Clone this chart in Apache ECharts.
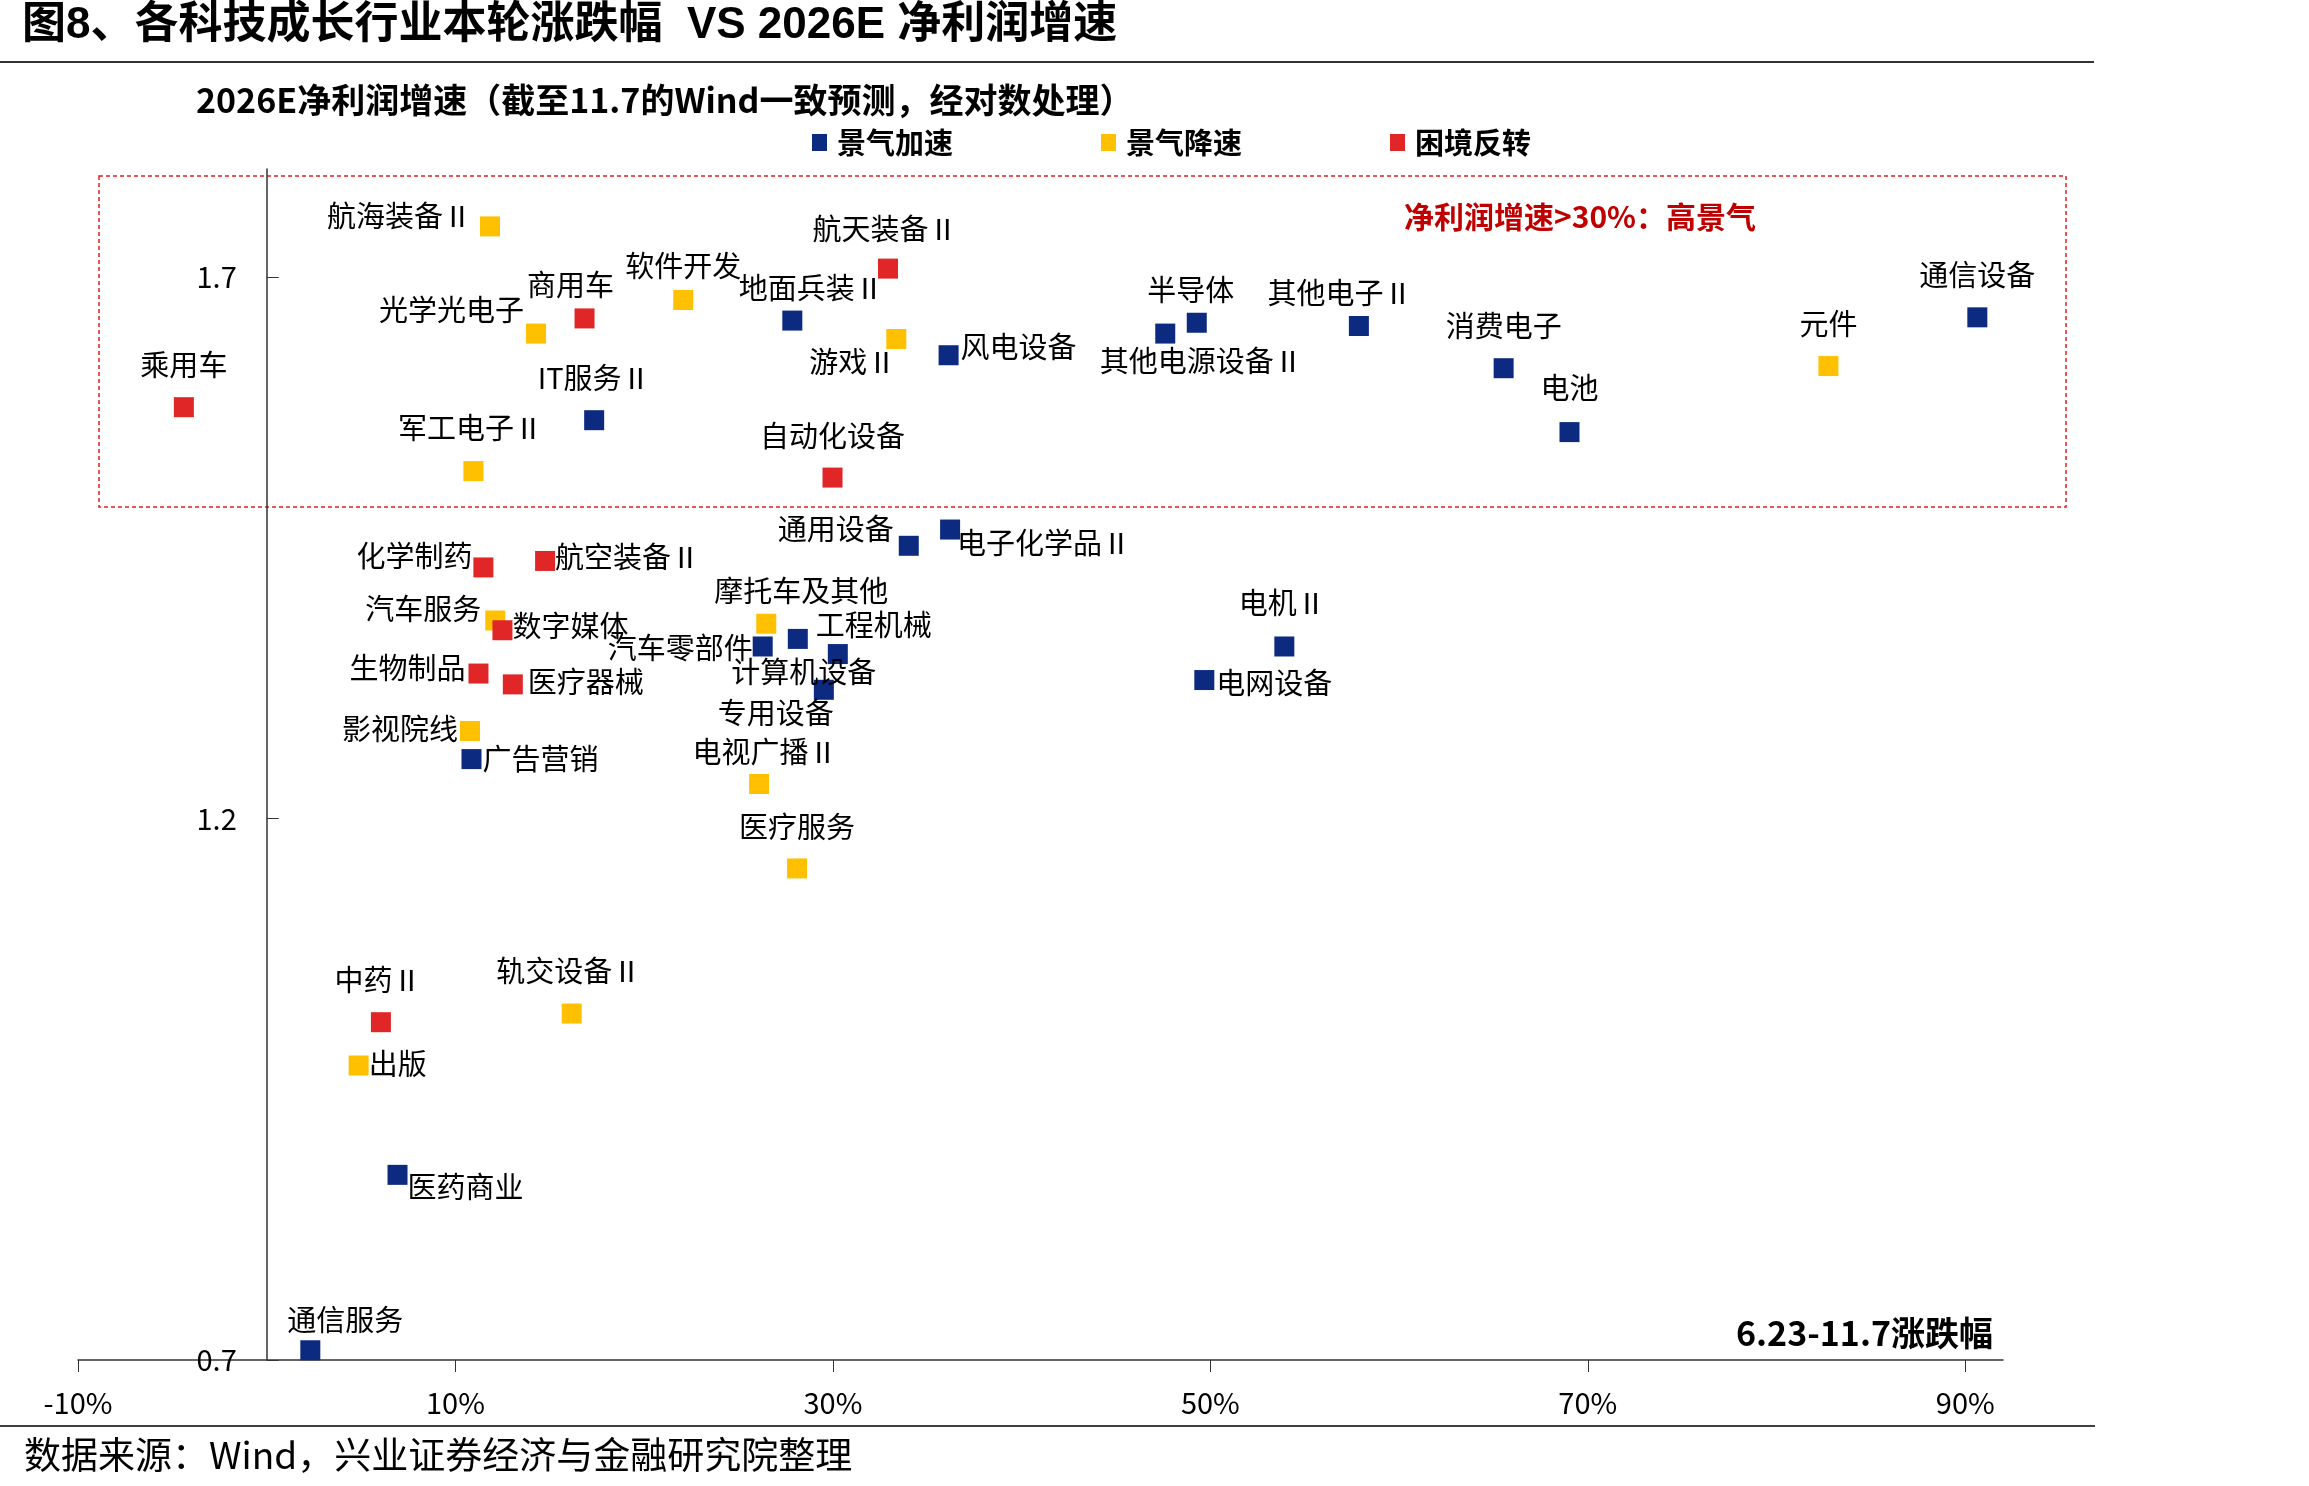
<!DOCTYPE html>
<html>
<head>
<meta charset="utf-8">
<title>图8</title>
<script src="https://cdn.jsdelivr.net/npm/echarts@6/dist/echarts.min.js"></script>
<style>
    html, body { margin: 0; padding: 0; background: #fff; }
    #main { width: 2309px; height: 1486px; }
</style>
</head>
<body>
<div id="main"></div>
<script>
// 景气加速
var accelNames = ['地面兵装Ⅱ', '风电设备', 'IT服务Ⅱ', '半导体', '其他电源设备Ⅱ', '其他电子Ⅱ', '消费电子', '电池', '通信设备', '通用设备',
    '电子化学品Ⅱ', '工程机械', '汽车零部件', '计算机设备', '电机Ⅱ', '电网设备', '专用设备', '广告营销', '医药商业', '通信服务'];
var accelX = [27.85, 36.13, 17.35, 49.28, 47.61, 57.87, 65.54, 69.03, 90.64, 34.02,
    36.21, 28.14, 26.28, 30.26, 53.92, 49.68, 29.52, 10.85, 6.93, 2.31];
var accelY = [1.660, 1.628, 1.568, 1.658, 1.648, 1.655, 1.616, 1.557, 1.663, 1.452,
    1.467, 1.366, 1.359, 1.352, 1.359, 1.328, 1.319, 1.255, 0.871, 0.709];

// 景气降速
var decelNames = ['航海装备Ⅱ', '光学光电子', '软件开发', '游戏Ⅱ', '军工电子Ⅱ', '元件', '汽车服务', '摩托车及其他', '影视院线', '电视广播Ⅱ',
    '医疗服务', '轨交设备Ⅱ', '出版'];
var decelX = [11.83, 14.27, 22.07, 33.36, 10.95, 82.75, 12.11, 26.47, 10.77, 26.09, 28.10, 16.16, 4.87];
var decelY = [1.747, 1.648, 1.679, 1.643, 1.521, 1.618, 1.383, 1.380, 1.281, 1.232, 1.154, 1.020, 0.972];

// 困境反转
var turnNames = ['乘用车', '商用车', '航天装备Ⅱ', '自动化设备', '化学制药', '航空装备Ⅱ', '数字媒体', '生物制品', '医疗器械', '中药Ⅱ'];
var turnX = [-4.39, 16.84, 32.92, 29.98, 11.48, 14.75, 12.49, 11.22, 13.04, 6.05];
var turnY = [1.580, 1.662, 1.708, 1.515, 1.432, 1.438, 1.374, 1.334, 1.324, 1.012];

// 坐标轴刻度
var xTicks = [-10, 10, 30, 50, 70, 90];
var yTicks = [0.7, 1.2, 1.7];
var xMin = -10, xMax = 92;

// 标签摆放：[位置, dx, dy]，没写的默认放在上方
var labelPlace = {
    '航海装备Ⅱ': ['left', -6, -10],
    '光学光电子': ['left', 0, -24],
    '商用车': ['top', -14, 9],
    '软件开发': ['top', 0, 8],
    '地面兵装Ⅱ': ['top', 19, 9],
    '航天装备Ⅱ': ['top', -3, 2],
    '游戏Ⅱ': ['left', 12, 23],
    '风电设备': ['right', 0, -8],
    '军工电子Ⅱ': ['top', -3, -1],
    '半导体': ['top', -6, 9],
    '其他电源设备Ⅱ': ['bottom', 36, 0],
    '其他电子Ⅱ': ['top', -19, 9],
    '电池': ['top', 0, -2],
    '通用设备': ['left', -3, -17],
    '电子化学品Ⅱ': ['right', -5, 13],
    '化学制药': ['left', 1, -11],
    '航空装备Ⅱ': ['right', -2, -4],
    '汽车服务': ['left', -2, -12],
    '数字媒体': ['right', -2, -4],
    '摩托车及其他': ['top', 35, 9],
    '工程机械': ['right', 6, -14],
    '汽车零部件': ['left', 2, 2],
    '计算机设备': ['bottom', -34, -9],
    '电机Ⅱ': ['top', -2, -1],
    '电网设备': ['right', 0, 3],
    '专用设备': ['bottom', -48, -4],
    '生物制品': ['left', -1, -6],
    '医疗器械': ['right', 3, -2],
    '影视院线': ['left', 0, -2],
    '广告营销': ['right', -1, 0],
    '电视广播Ⅱ': ['top', 6, 10],
    '医疗服务': ['top', 0, 1],
    '中药Ⅱ': ['top', -3, 0],
    '轨交设备Ⅱ': ['top', -3, -1],
    '出版': ['right', -2, -2],
    '医药商业': ['right', -2, 12],
    '通信服务': ['top', 35, 12]
};
var placeDistance = { top: 17, bottom: 2, left: 2, right: 2 };

var cjk = '"Noto Sans CJK SC", sans-serif';
var gridLeft = 78, gridRight = 306;

function buildPoints(names, xs, ys) {
    var list = [];
    for (var i = 0; i < names.length; i++) {
        var p = labelPlace[names[i]] || ['top', 0, 0];
        list.push({
            name: names[i],
            value: [xs[i], ys[i]],
            label: {
                position: p[0],
                distance: placeDistance[p[0]],
                offset: [p[1], p[2]]
            }
        });
    }
    return list;
}

function scatterSeries(name, color, data) {
    return {
        name: name,
        type: 'scatter',
        symbol: 'rect',
        symbolSize: 20,
        itemStyle: { color: color, opacity: 1 },
        label: {
            show: true,
            formatter: '{b}',
            color: '#000',
            fontSize: 29,
            lineHeight: 30,
            fontFamily: cjk
        },
        emphasis: { disabled: true },
        data: data
    };
}

var chart = echarts.init(document.getElementById('main'), null, { renderer: 'canvas' });

// y轴放在x=0处（轴线和标签一起平移）
var gridWidth = 2309 - gridLeft - gridRight;
var yAxisShift = -(0 - xMin) / (xMax - xMin) * gridWidth;

var option = {
    animation: false,
    backgroundColor: '#fff',
    textStyle: { fontFamily: cjk },
    title: [{
        text: '图8、各科技成长行业本轮涨跌幅  VS 2026E 净利润增速',
        left: 22, top: 4, padding: 0,
        textStyle: { fontSize: 44, fontWeight: 'bold', color: '#000', fontFamily: '"Liberation Sans", "Noto Sans CJK SC"' }
    }, {
        text: '2026E净利润增速（截至11.7的Wind一致预测，经对数处理）',
        left: 196, top: 83, padding: 0,
        textStyle: { fontSize: 34, fontWeight: 'bold', color: '#000', fontFamily: cjk }
    }, {
        text: '净利润增速>30%：高景气',
        left: 1404, top: 202, padding: 0,
        textStyle: { fontSize: 30, fontWeight: 'bold', color: '#C00000', fontFamily: cjk }
    }, {
        text: '6.23-11.7涨跌幅',
        right: 316, top: 1316, padding: 0,
        textStyle: { fontSize: 34, fontWeight: 'bold', color: '#000', fontFamily: cjk }
    }, {
        text: '数据来源：Wind，兴业证券经济与金融研究院整理',
        left: 24, top: 1436, padding: 0,
        textStyle: { fontSize: 37, fontWeight: 'normal', color: '#000', fontFamily: cjk }
    }],
    legend: {
        left: 812, top: 128,
        padding: 0,
        itemWidth: 15, itemHeight: 17,
        itemGap: 148,
        icon: 'rect',
        selectedMode: false,
        textStyle: { fontSize: 29, fontWeight: 'bold', color: '#000', padding: [0, 0, 0, 5] },
        data: ['景气加速', '景气降速', '困境反转']
    },
    grid: {
        left: gridLeft, right: gridRight, top: 169, bottom: 126,
        containLabel: false
    },
    xAxis: {
        type: 'value',
        min: xMin, max: xMax,
        splitLine: { show: false },
        axisLine: { onZero: false, lineStyle: { color: '#333', width: 1.5 } },
        axisTick: { show: true, length: 12, customValues: xTicks, lineStyle: { color: '#333', width: 1 } },
        axisLabel: {
            customValues: xTicks,
            formatter: '{value}%',
            margin: 28,
            fontSize: 29,
            color: '#000',
            fontFamily: cjk
        }
    },
    yAxis: {
        type: 'value',
        min: 0.7, max: 1.8,
        offset: yAxisShift,
        splitLine: { show: false },
        axisLine: { show: true, onZero: false, lineStyle: { color: '#333', width: 1.5 } },
        axisTick: { show: true, inside: true, length: 12, customValues: yTicks, lineStyle: { color: '#333', width: 1 } },
        axisLabel: {
            customValues: yTicks,
            formatter: function (v) { return v.toFixed(1); },
            margin: 30,
            fontSize: 29,
            color: '#000',
            fontFamily: cjk
        }
    },
    graphic: [{
        type: 'line',
        shape: { x1: 0, y1: 62, x2: 2094, y2: 62 },
        style: { stroke: '#333', lineWidth: 2 }
    }, {
        type: 'line',
        shape: { x1: 0, y1: 1426, x2: 2095, y2: 1426 },
        style: { stroke: '#000', lineWidth: 1.5 }
    }, {
        // 高景气区域虚线框
        type: 'rect',
        shape: { x: 99, y: 176, width: 1967, height: 331 },
        style: { fill: 'none', stroke: '#E02020', lineWidth: 1.5, lineDash: [4, 3] }
    }],
    series: [
        scatterSeries('景气加速', '#0B2A80', buildPoints(accelNames, accelX, accelY)),
        scatterSeries('景气降速', '#FFC000', buildPoints(decelNames, decelX, decelY)),
        scatterSeries('困境反转', '#E02626', buildPoints(turnNames, turnX, turnY))
    ]
};

chart.setOption(option);
</script>
</body>
</html>
